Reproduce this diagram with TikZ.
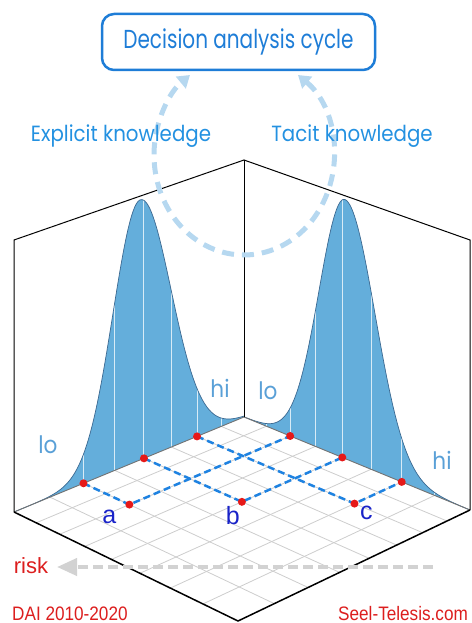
\documentclass[tikz,border=0pt]{standalone}
\usepackage{fontspec}
\setmainfont{Liberation Sans}
\newfontfamily\roundfont[FakeStretch=0.77]{Poppins}
\newfontfamily\knowfont[FakeStretch=0.9]{Poppins}
\newfontfamily\redfont[FakeStretch=0.88]{Liberation Sans}
\usetikzlibrary{calc,arrows.meta}

\definecolor{boxblue}{RGB}{30,125,215}
\definecolor{knowblue}{RGB}{35,145,225}
\definecolor{lohiblue}{RGB}{90,160,215}
\definecolor{wallfill}{RGB}{100,174,219}
\definecolor{curveline}{RGB}{60,105,145}
\definecolor{arcblue}{RGB}{182,216,240}
\definecolor{pathblue}{RGB}{30,130,225}
\definecolor{dotred}{RGB}{230,25,25}
\definecolor{abcblue}{RGB}{25,35,200}
\definecolor{riskred}{RGB}{220,30,30}
\definecolor{gridgray}{RGB}{205,205,205}
\definecolor{arrowgray}{RGB}{210,210,210}

\begin{document}
\begin{tikzpicture}[x=1pt,y=-1pt,
    declare function={
      lsig(\x)=ifthenelse(\x<140,27,31);
      rsig(\x)=ifthenelse(\x<345,26,30);
      lbell(\x)=exp(-min(0.5*((\x-140)/lsig(\x))*((\x-140)/lsig(\x)),9));
      rbell(\x)=exp(-min(0.5*((\x-345)/rsig(\x))*((\x-345)/rsig(\x)),9));
      lwall(\x)=512-(\x-14)*(95/230)-260*lbell(\x);
      rwall(\x)=417+(\x-244)*(93/226)-259*rbell(\x);
    },
    frame/.style={black,line width=1pt},
    gridline/.style={gridgray,line width=0.8pt},
    wallgrid/.style={white!75!wallfill,line width=1pt},
    pathline/.style={pathblue,line width=2.5pt,dash pattern=on 7pt off 4pt},
    reddot/.style={circle,fill=dotred,inner sep=0pt,minimum size=8pt},
    pointlabel/.style={abcblue,font=\fontsize{25}{25}\selectfont},
    lohi/.style={lohiblue,font=\knowfont\fontsize{24}{24}\selectfont},
    knowlabel/.style={knowblue,font=\knowfont\fontsize{22}{22}\selectfont},
    cyclebox/.style={draw=boxblue,line width=2.5pt,rounded corners=12pt,
      minimum width=273pt,minimum height=56pt,text=boxblue,
      font=\roundfont\fontsize{26}{26}\selectfont},
    cyclearc/.style={arcblue,line width=5pt,dash pattern=on 12pt off 8pt,
      {Triangle[length=12pt,width=15pt]}-{Triangle[length=12pt,width=15pt]}},
    riskarrow/.style={arrowgray,line width=4pt,dash pattern=on 10pt off 5pt,
      -{Triangle[length=20pt,width=17pt]}},
    redtext/.style={riskred,inner sep=0pt}]
  \useasboundingbox (0,0) rectangle (471,623);

  %corners
  \coordinate (back) at (244,417);
  \coordinate (left) at (14,512);
  \coordinate (right) at (470,510);
  \coordinate (front) at (238,621);
  \coordinate (backtop) at (244,160);
  \coordinate (lefttop) at (14,240);
  \coordinate (righttop) at (470,240);

  %grid points on the floor edges
  \foreach \i in {0,...,8}{
    \pgfmathsetmacro\f{(\i/8)*0.77/((1-\i/8)+(\i/8)*0.77)}
    \coordinate (bl\i) at ($(back)!\f!(left)$);
    \coordinate (br\i) at ($(back)!\f!(right)$);
    \coordinate (fl\i) at ($(left)!\f!(front)$);
    \coordinate (fr\i) at ($(right)!\f!(front)$);
  }

  %floor
  \foreach \i in {1,...,7}{
    \draw[gridline] (bl\i) -- (fr\i);
    \draw[gridline] (br\i) -- (fl\i);
  }

  %left wall
  \fill[wallfill] (left) -- plot[domain=14:244,samples=140] (\x,{lwall(\x)}) -- (back) -- cycle;
  \begin{scope}
    \clip (left) -- plot[domain=14:244,samples=140] (\x,{lwall(\x)}) -- (back) -- cycle;
    \foreach \i in {1,...,7}
      \draw[wallgrid] (bl\i) -- ++(0,-300);
  \end{scope}
  \draw[curveline,line width=0.7pt] plot[domain=14:244,samples=140] (\x,{lwall(\x)});

  %right wall
  \fill[wallfill] (back) -- plot[domain=244:470,samples=140] (\x,{rwall(\x)}) -- (right) -- cycle;
  \begin{scope}
    \clip (back) -- plot[domain=244:470,samples=140] (\x,{rwall(\x)}) -- (right) -- cycle;
    \foreach \i in {1,...,7}
      \draw[wallgrid] (br\i) -- ++(0,-300);
  \end{scope}
  \draw[curveline,line width=0.7pt] plot[domain=244:470,samples=140] (\x,{rwall(\x)});

  %frame
  \draw[black!55,line width=0.9pt] (left) -- (back) -- (right);
  \draw[frame] (left) -- (lefttop) -- (backtop) -- (righttop) -- (right);
  \draw[frame] (backtop) -- (back);
  \draw[frame,line width=1.5pt] (left) -- (front) -- (right);

  %choices
  \coordinate (a) at (intersection of bl6--fr6 and br2--fl2);
  \coordinate (b) at (intersection of bl4--fr4 and br4--fl4);
  \coordinate (c) at (intersection of bl2--fr2 and br6--fl6);
  \draw[pathline] (bl6) -- (a) -- (br2);
  \draw[pathline] (bl4) -- (b) -- (br4);
  \draw[pathline] (bl2) -- (c) -- (br6);
  \foreach \p in {bl2,bl4,bl6,br2,br4,br6,a,b,c}
    \node[reddot] (dot\p) at (\p) {};
  \node[pointlabel] (la) at ($(a)+(-20,12)$) {a};
  \node[pointlabel] (lb) at ($(b)+(-9,14)$) {b};
  \node[pointlabel] (lc) at ($(c)+(12,9)$) {c};

  %wall labels
  \node[lohi] (lleft) at (48,445) {lo};
  \node[lohi] (hleft) at (220,388) {hi};
  \node[lohi] (lright) at (268,391) {lo};
  \node[lohi] (hright) at (442,460) {hi};

  %cycle
  \coordinate (rtip) at (298,75);
  \draw[cyclearc] (rtip) arc[start angle=-53.13,end angle=233.13,x radius=90,y radius=100];
  \node[cyclebox] (cycle) at (238.5,42) {Decision analysis cycle};
  \node[knowlabel] (explicit) at (121,136) {Explicit knowledge};
  \node[knowlabel] (tacit) at (352,136) {Tacit knowledge};

  %risk
  \coordinate (riskstart) at (433,567);
  \coordinate (riskend) at (57,567);
  \draw[riskarrow] (riskstart) -- (riskend);
  \node[redtext,font=\fontsize{22}{22}\selectfont] (risk) at (31,566) {risk};
  \node[redtext,anchor=base west,font=\redfont\fontsize{19.5}{19.5}\selectfont] (dai) at (12,620) {DAI 2010-2020};
  \node[redtext,anchor=base west,font=\redfont\fontsize{19.5}{19.5}\selectfont] (seel) at (338,620) {Seel-Telesis.com};
\end{tikzpicture}
\end{document}
